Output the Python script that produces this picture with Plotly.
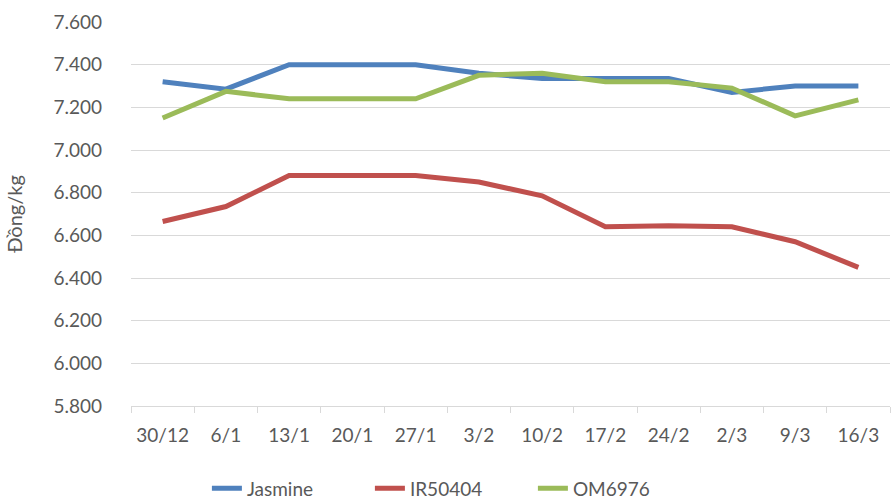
import plotly.graph_objects as go

dates = ["30/12", "6/1", "13/1", "20/1", "27/1", "3/2", "10/2", "17/2", "24/2", "2/3", "9/3", "16/3"]
jasmine = [7320, 7285, 7400, 7400, 7400, 7360, 7335, 7335, 7335, 7270, 7300, 7300]
ir50404 = [6665, 6735, 6880, 6880, 6880, 6850, 6785, 6640, 6645, 6640, 6570, 6450]
om6976 = [7150, 7275, 7240, 7240, 7240, 7350, 7360, 7320, 7320, 7290, 7160, 7235]
y_ticks = [5800, 6000, 6200, 6400, 6600, 6800, 7000, 7200, 7400, 7600]
y_tick_labels = ["5.800", "6.000", "6.200", "6.400", "6.600", "6.800", "7.000", "7.200", "7.400", "7.600"]

series = [
    ("Jasmine", jasmine, "#4F81BD"),
    ("IR50404", ir50404, "#C0504D"),
    ("OM6976", om6976, "#9BBB59"),
]

fig = go.Figure()
for name, vals, color in series:
    fig.add_trace(go.Scatter(x=dates, y=vals, name=name, mode="lines",
                             line=dict(color=color, width=5)))

font_family = "Lato, 'Open Sans', sans-serif"
txt = "#595959"
fig.update_layout(
    width=894, height=501,
    margin=dict(l=131, r=4, t=22, b=95, autoexpand=False),
    paper_bgcolor="white", plot_bgcolor="white",
    font=dict(family=font_family, size=19, color=txt),
    showlegend=True,
    legend=dict(orientation="h", x=0.1, xanchor="left", y=-0.165, yanchor="top",
                font=dict(size=19, color=txt), itemwidth=30, tracegroupgap=0,
                entrywidth=118, entrywidthmode="pixels",
                bgcolor="rgba(0,0,0,0)"),
    xaxis=dict(type="category", showgrid=False, showline=True, linecolor="#D9D9D9", linewidth=1,
               ticks="outside", tickson="boundaries", ticklen=6, tickcolor="#D9D9D9",
               tickfont=dict(size=19, color=txt), ticklabelstandoff=12, range=[-0.5, 11.5]),
    yaxis=dict(range=[5800, 7600], tickvals=y_ticks, ticktext=y_tick_labels,
               showgrid=True, gridcolor="#D9D9D9", gridwidth=1, zeroline=False, showline=False,
               tickfont=dict(size=19, color=txt), ticklabelstandoff=28,
               title=dict(text="Đồng/kg", font=dict(size=20, color=txt), standoff=25)),
)

fig.write_html("out.html", config={"displayModeBar": False},
               post_script="document.body.style.margin='0';document.body.style.overflow='hidden';")
